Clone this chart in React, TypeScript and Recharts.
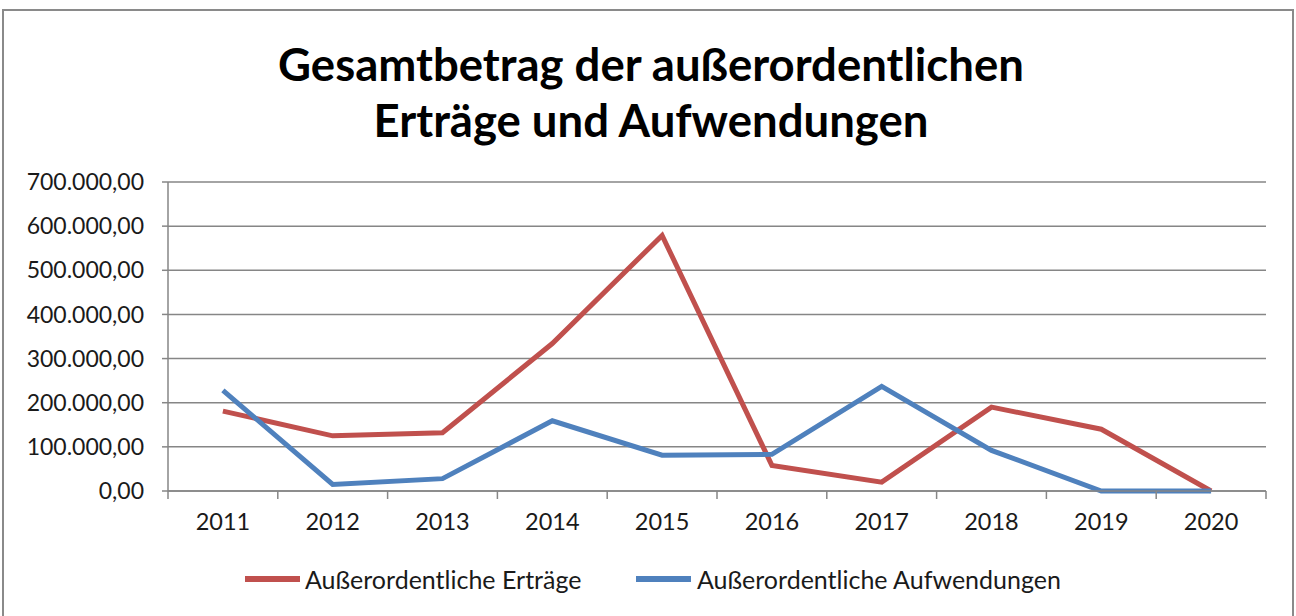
import React from 'react';
import { LineChart, Line, XAxis, YAxis, CartesianGrid, Legend } from 'recharts';

const years = ['2011', '2012', '2013', '2014', '2015', '2016', '2017', '2018', '2019', '2020'];
const ertraege = [181000, 125000, 132000, 334000, 579000, 58000, 20000, 190000, 140000, 0];
const aufwendungen = [228000, 15000, 28000, 159000, 81000, 83000, 237000, 92000, 0, 0];
const yTicks = [0, 100000, 200000, 300000, 400000, 500000, 600000, 700000];
const seriesNames = ['Außerordentliche Erträge', 'Außerordentliche Aufwendungen'];
const titleLines = ['Gesamtbetrag der außerordentlichen', 'Erträge und Aufwendungen'];

const RED = '#C0504D';
const BLUE = '#4F81BD';
const GRID = '#868686';
const FONT = 'Lato, "Noto Sans", sans-serif';

const data = years.map((y, i) => ({ year: y, e: ertraege[i], a: aufwendungen[i] }));

const W = 1296;
const H = 616;
const M = { top: 182, right: 30, bottom: 75, left: 0 };
const Y_W = 168;
const BAND = (W - M.left - Y_W - M.right) / years.length;

function fmt(v: number): string {
  const s = Math.round(v).toString().replace(/\B(?=(\d{3})+(?!\d))/g, '.');
  return s + ',00';
}

const XTick = (props: any) => {
  const { x, y, payload, index } = props;
  const half = BAND / 2;
  return (
    <g>
      <line x1={x - half} x2={x - half} y1={y - 8} y2={y} stroke={GRID} strokeWidth={1.5} />
      {index === years.length - 1 && (
        <line x1={x + half} x2={x + half} y1={y - 8} y2={y} stroke={GRID} strokeWidth={1.5} />
      )}
      <text x={x} y={y + 31} textAnchor="middle" fill="#1a1a1a" fontSize={23.5} fontFamily={FONT}>
        {payload.value}
      </text>
    </g>
  );
};

const LegendContent = () => (
  <div style={{ position: 'relative', fontFamily: FONT, fontSize: 25, color: '#1a1a1a' }}>
    <div style={{ position: 'absolute', left: 245, top: 0, display: 'flex', alignItems: 'center' }}>
      <div style={{ width: 55, height: 6, background: RED, marginRight: 5 }} />
      <span>{seriesNames[0]}</span>
    </div>
    <div style={{ position: 'absolute', left: 636, top: 0, display: 'flex', alignItems: 'center' }}>
      <div style={{ width: 55, height: 6, background: BLUE, marginRight: 6 }} />
      <span>{seriesNames[1]}</span>
    </div>
  </div>
);

export default function App() {
  return (
    <div style={{ position: 'absolute', left: 0, top: 0, width: W, height: H, background: '#fff', overflow: 'hidden' }}>
      <div style={{ position: 'absolute', left: 2, top: 9, width: 1288, height: 640, border: '2px solid #8a8a8a' }} />
      <div style={{ position: 'absolute', left: 0, top: 36, width: 1302, textAlign: 'center', fontFamily: FONT, fontWeight: 700, fontSize: 45.5, lineHeight: '56px', color: '#000' }}>
        <div>{titleLines[0]}</div>
        <div>{titleLines[1]}</div>
      </div>
      <div style={{ position: 'absolute', left: 0, top: 0 }}>
        <LineChart width={W} height={H} data={data} margin={M}>
          <CartesianGrid horizontal vertical={false} stroke={GRID} strokeWidth={1.5} />
          <XAxis
            dataKey="year"
            axisLine={{ stroke: GRID, strokeWidth: 1.5 }}
            tickLine={false}
            tickSize={8}
            tickMargin={0}
            height={50}
            interval={0}
            padding={{ left: BAND / 2, right: BAND / 2 }}
            tick={<XTick />}
          />
          <YAxis
            width={Y_W}
            domain={[0, 700000]}
            ticks={yTicks}
            interval={0}
            tickFormatter={fmt}
            axisLine={{ stroke: GRID, strokeWidth: 1.5 }}
            tickLine={{ stroke: GRID, strokeWidth: 1.5 }}
            tickSize={6}
            tickMargin={18}
            tick={{ fill: '#1a1a1a', fontSize: 23, fontFamily: FONT }}
          />
          <Legend
            layout="vertical"
            align="center"
            verticalAlign="middle"
            wrapperStyle={{ position: 'absolute', left: 0, top: 564, width: W, height: 32 }}
            content={<LegendContent />}
          />
          <Line type="linear" dataKey="e" name={seriesNames[0]} stroke={RED} strokeWidth={5} dot={false} isAnimationActive={false} />
          <Line type="linear" dataKey="a" name={seriesNames[1]} stroke={BLUE} strokeWidth={5} dot={false} isAnimationActive={false} />
        </LineChart>
      </div>
    </div>
  );
}
